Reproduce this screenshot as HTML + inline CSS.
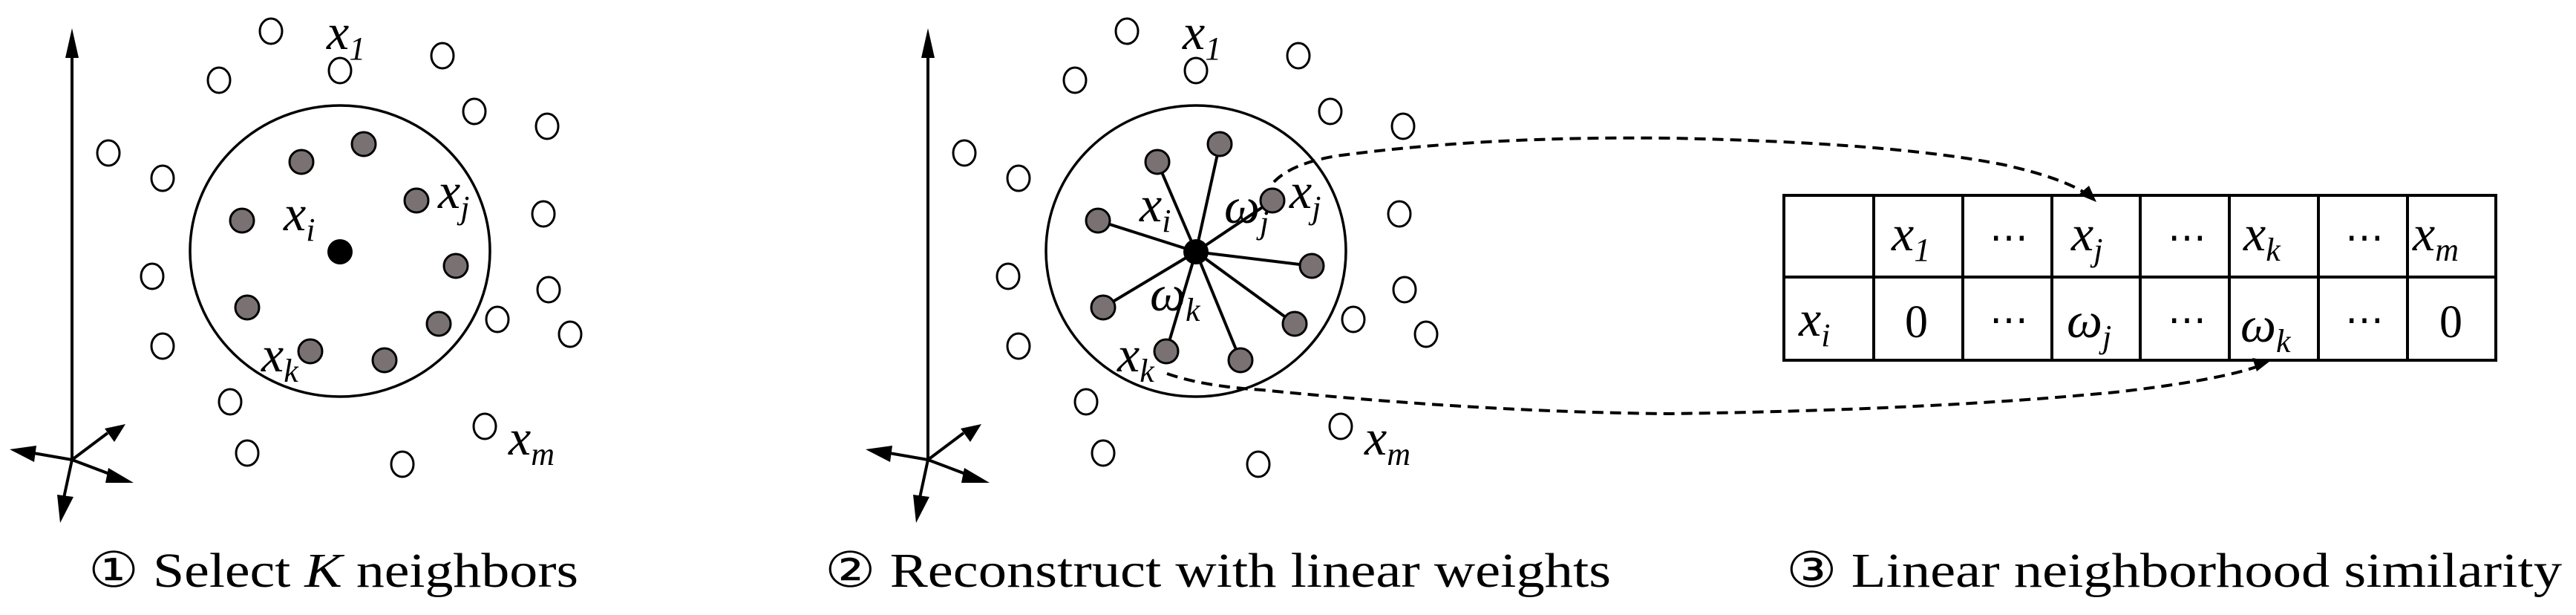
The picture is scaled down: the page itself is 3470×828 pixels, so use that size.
<!DOCTYPE html>
<html><head><meta charset="utf-8"><style>
html,body{margin:0;padding:0;background:#fff;}
svg{display:block}
text{font-family:"Liberation Serif","DejaVu Serif",serif;fill:#000}
.m{font-style:italic;font-size:68px}
.s{font-size:44px;font-style:italic}
.c{font-size:66px;font-family:"Liberation Serif",serif;font-weight:normal}
</style></head><body>
<svg width="3470" height="828" viewBox="0 0 3470 828" xmlns="http://www.w3.org/2000/svg">
<defs>
<g id="axes" stroke="#000" stroke-width="4" fill="none">
  <line x1="97" y1="70" x2="97" y2="619"/>
  <line x1="97" y1="619" x2="45" y2="610"/>
  <line x1="97" y1="619" x2="145" y2="583"/>
  <line x1="97" y1="619" x2="150" y2="639"/>
  <line x1="97" y1="619" x2="86" y2="670"/>
</g>
<g id="heads" fill="#000">
  <polygon points="97,38 88,78 106,78"/>
  <polygon points="13,605 49,600 46,622 "/>
  <polygon points="169,571 141,577 154,595"/>
  <polygon points="180,650 146,630 142,650"/>
  <polygon points="81,704 77,666 99,669"/>
</g>
<g id="open" fill="#fff" stroke="#000" stroke-width="3">
  <ellipse cx="365" cy="42" rx="15" ry="17"/>
  <ellipse cx="458" cy="95" rx="15" ry="17"/>
  <ellipse cx="295" cy="108" rx="15" ry="17"/>
  <ellipse cx="596" cy="75" rx="15" ry="17"/>
  <ellipse cx="639" cy="150" rx="15" ry="17"/>
  <ellipse cx="737" cy="170" rx="15" ry="17"/>
  <ellipse cx="146" cy="206" rx="15" ry="17"/>
  <ellipse cx="219" cy="240" rx="15" ry="17"/>
  <ellipse cx="732" cy="288" rx="15" ry="17"/>
  <ellipse cx="205" cy="372" rx="15" ry="17"/>
  <ellipse cx="739" cy="390" rx="15" ry="17"/>
  <ellipse cx="670" cy="430" rx="15" ry="17"/>
  <ellipse cx="768" cy="450" rx="15" ry="17"/>
  <ellipse cx="219" cy="466" rx="15" ry="17"/>
  <ellipse cx="310" cy="541" rx="15" ry="17"/>
  <ellipse cx="333" cy="610" rx="15" ry="17"/>
  <ellipse cx="542" cy="625" rx="15" ry="17"/>
  <ellipse cx="653" cy="574" rx="15" ry="17"/>
</g>
<g id="big"><ellipse cx="458" cy="338" rx="202" ry="196" fill="none" stroke="#000" stroke-width="3.5"/></g>
<g id="gray" fill="#7a7272" stroke="#000" stroke-width="3">
  <circle cx="490" cy="194" r="16"/>
  <circle cx="406" cy="218" r="16"/>
  <circle cx="561" cy="270" r="16"/>
  <circle cx="326" cy="297" r="16"/>
  <circle cx="614" cy="358" r="16"/>
  <circle cx="333" cy="414" r="16"/>
  <circle cx="591" cy="436" r="16"/>
  <circle cx="418" cy="473" r="16"/>
  <circle cx="518" cy="485" r="16"/>
</g>
</defs>

<!-- Panel 1 -->
<use href="#axes"/><use href="#heads"/><use href="#open"/><use href="#big"/><use href="#gray"/>
<circle cx="458" cy="339" r="17" fill="#000"/>
<text class="m" x="440" y="66">x<tspan class="s" dy="14">1</tspan></text>
<text class="m" x="590" y="280">x<tspan class="s" dy="14">j</tspan></text>
<text class="m" x="382" y="310">x<tspan class="s" dy="14">i</tspan></text>
<text class="m" x="352" y="500">x<tspan class="s" dy="14">k</tspan></text>
<text class="m" x="685" y="612">x<tspan class="s" dy="14">m</tspan></text>
<text class="c" x="119" y="790" textLength="660" lengthAdjust="spacingAndGlyphs">① Select <tspan font-style="italic">K</tspan> neighbors</text>

<!-- Panel 2 -->
<g transform="translate(1153,0)">
  <use href="#axes"/><use href="#heads"/><use href="#open"/><use href="#big"/>
  <g stroke="#000" stroke-width="4">
    <line x1="458" y1="339" x2="490" y2="194"/>
    <line x1="458" y1="339" x2="406" y2="218"/>
    <line x1="458" y1="339" x2="561" y2="270"/>
    <line x1="458" y1="339" x2="326" y2="297"/>
    <line x1="458" y1="339" x2="614" y2="358"/>
    <line x1="458" y1="339" x2="333" y2="414"/>
    <line x1="458" y1="339" x2="591" y2="436"/>
    <line x1="458" y1="339" x2="418" y2="473"/>
    <line x1="458" y1="339" x2="518" y2="485"/>
  </g>
  <use href="#gray"/>
  <circle cx="458" cy="339" r="17" fill="#000"/>
  <text class="m" x="440" y="66">x<tspan class="s" dy="14">1</tspan></text>
  <text class="m" x="584" y="280">x<tspan class="s" dy="14">j</tspan></text>
  <text class="m" x="382" y="298">x<tspan class="s" dy="14">i</tspan></text>
  <text class="m" x="496" y="300">ω<tspan class="s" dy="14">j</tspan></text>
  <text class="m" x="396" y="418">ω<tspan class="s" dy="14">k</tspan></text>
  <text class="m" x="352" y="500">x<tspan class="s" dy="14">k</tspan></text>
  <text class="m" x="685" y="612">x<tspan class="s" dy="14">m</tspan></text>
</g>
<text class="c" x="1111" y="790" textLength="1059" lengthAdjust="spacingAndGlyphs">② Reconstruct with linear weights</text>

<!-- dashed connectors -->
<g fill="none" stroke="#000" stroke-width="4" stroke-dasharray="15 9">
  <path d="M1716,245 Q1740,220 1800,210 Q2000,183 2250,186 Q2550,192 2700,222 Q2780,240 2812,262"/>
  <path d="M1572,503 Q1620,520 1700,525 Q2000,555 2250,557 Q2600,552 2850,528 Q2990,512 3045,492"/>
</g>
<polygon points="2824,272 2800,262 2814,250" fill="#000"/>
<polygon points="3058,486 3040,500 3034,482" fill="#000"/>

<!-- table -->
<g stroke="#000" stroke-width="4" fill="none">
  <rect x="2403" y="263" width="959" height="222"/>
  <line x1="2403" y1="373" x2="3362" y2="373"/>
  <line x1="2524" y1="263" x2="2524" y2="485"/>
  <line x1="2644" y1="263" x2="2644" y2="485"/>
  <line x1="2764" y1="263" x2="2764" y2="485"/>
  <line x1="2883" y1="263" x2="2883" y2="485"/>
  <line x1="3003" y1="263" x2="3003" y2="485"/>
  <line x1="3123" y1="263" x2="3123" y2="485"/>
  <line x1="3243" y1="263" x2="3243" y2="485"/>
</g>
<g>
  <text class="m" x="2548" y="337">x<tspan class="s" dy="14">1</tspan></text>
  <text x="2680" y="337" font-size="52">⋯</text>
  <text class="m" x="2790" y="337">x<tspan class="s" dy="14">j</tspan></text>
  <text x="2920" y="337" font-size="52">⋯</text>
  <text class="m" x="3022" y="337">x<tspan class="s" dy="14">k</tspan></text>
  <text x="3159" y="337" font-size="52">⋯</text>
  <text class="m" x="3250" y="337">x<tspan class="s" dy="14">m</tspan></text>
  <text class="m" x="2423" y="452">x<tspan class="s" dy="14">i</tspan></text>
  <text x="2566" y="454" font-size="62">0</text>
  <text x="2680" y="448" font-size="52">⋯</text>
  <text class="m" x="2784" y="454">ω<tspan class="s" dy="14">j</tspan></text>
  <text x="2920" y="448" font-size="52">⋯</text>
  <text class="m" x="3018" y="460">ω<tspan class="s" dy="14">k</tspan></text>
  <text x="3159" y="448" font-size="52">⋯</text>
  <text x="3286" y="454" font-size="62">0</text>
</g>
<text class="c" x="2406" y="790" textLength="1045" lengthAdjust="spacingAndGlyphs">③ Linear neighborhood similarity</text>
</svg>
</body></html>
